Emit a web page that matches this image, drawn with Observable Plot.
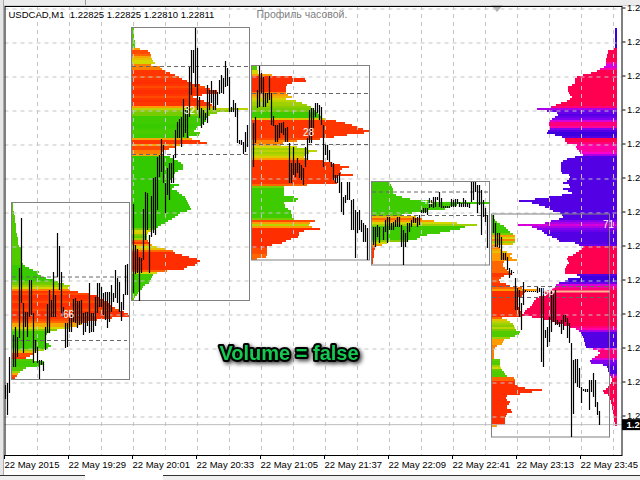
<!DOCTYPE html>
<html><head><meta charset="utf-8">
<script src="https://cdn.jsdelivr.net/npm/d3@7"></script>
<script src="https://cdn.jsdelivr.net/npm/@observablehq/plot@0.6"></script>
<style>
html,body{margin:0;padding:0;background:#fff;overflow:hidden}
#page{position:relative;width:640px;height:480px;overflow:hidden}
#page svg{position:absolute;left:0;top:0;background:transparent}
.c{position:absolute}
</style></head><body><div id="page">
<div class="c" style="left:0;top:0;width:640px;height:5px;background:#ececec;border-bottom:1px solid #d0d0d0"></div>
<div class="c" style="left:85px;top:0;width:1px;height:5px;background:#999"></div>
<div class="c" style="left:0;top:0;width:3px;height:476px;background:#e6e6e6;border-right:1px solid #aaa"></div>
<div class="c" style="left:0;top:475px;width:85px;height:5px;background:#f0f0f0;border-top:1px solid #333"></div>
<div class="c" style="left:163px;top:475px;width:477px;height:5px;background:#f0f0f0;border-top:1px solid #333"></div>
<div class="c" style="left:491px;top:5px;width:0;height:0;border-left:6px solid transparent;border-right:6px solid transparent;border-top:7px solid #b0b0b0"></div>
<script>
// ---- Price axis: chart rows (one row = one screen line of price) and tick prices
const bottomPrice = 1.2282, rowAtBottomPrice = 416.5, pricePerRow = 0.0004 / 34;
const rowPrice = r => bottomPrice + (rowAtBottomPrice - r) * pricePerRow;
const priceTicks = [1.2282,1.2286,1.2290,1.2294,1.2298,1.2302,1.2306,1.2310,1.2314,1.2318,1.2322,1.2326,1.2330];
const timeTickBars = [0,32,64,96,128,160,192,224,256,288];
const timeTickLabels = ["22 May 2015","22 May 19:29","22 May 20:01","22 May 20:33","22 May 21:05","22 May 21:37","22 May 22:09","22 May 22:41","22 May 23:13","22 May 23:45"];
const gridBars = [16,32,48,64,80,96,112,128,144,160,176,192,208,224,240,256,272,288,304];

// ---- M1 bars: high and low per bar, in chart rows (null = no bar drawn)
const barHigh = [385,383,357,null,335,327,337,268,218,303,312,312,280,280,313,340,347,360,360,362,327,304,290,300,272,295,233,246,272,307,323,323,318,315,299,298,301,301,300,313,312,312,283,313,313,297,283,283,287,293,292,292,292,285,293,270,278,282,302,294,265,264,null,null,
204,245,249,257,258,209,192,193,235,196,178,177,157,155,139,145,183,168,163,163,155,130,122,119,117,99,110,107,67,50,50,28,48,97,108,110,113,85,90,81,90,90,92,80,75,78,61,68,77,107,100,103,108,140,140,142,132,125,null,null,
123,117,90,66,73,77,93,93,76,93,116,125,125,123,123,122,128,127,143,163,147,163,158,163,165,168,147,138,110,108,108,103,103,105,107,125,145,145,150,162,163,175,175,173,182,197,195,182,182,200,199,210,212,210,220,223,225,228,null,null,
227,227,225,227,null,227,220,217,217,223,222,220,217,217,225,230,233,223,223,220,217,218,217,215,210,208,208,208,198,200,197,197,197,192,198,206,206,206,206,199,200,199,199,202,203,198,200,203,203,182,182,182,185,185,190,200,208,215,null,null,
215,223,233,233,237,253,253,257,268,270,272,278,288,290,303,282,290,291,291,291,291,291,287,288,288,288,330,327,317,290,293,290,320,322,320,315,315,318,323,343,360,359,359,368,387,389,389,389,380,380,373,380,402,411];
const barLow = [399,415,393,null,367,367,357,338,303,353,327,337,317,315,363,353,363,379,365,371,350,333,333,317,317,317,277,290,313,317,348,347,332,332,322,323,328,325,324,335,332,326,333,332,332,326,313,307,307,315,320,328,322,312,302,298,303,312,321,310,295,295,null,null,
293,274,273,301,273,260,240,230,273,237,233,235,210,177,172,183,213,195,200,183,183,158,138,138,147,137,133,138,117,95,73,87,110,118,128,125,120,123,110,103,110,110,105,94,93,94,87,86,112,112,112,117,143,144,145,154,152,147,null,null,
167,143,108,107,93,107,107,103,100,125,126,142,142,138,133,135,142,142,183,183,175,177,173,178,180,185,167,160,143,143,128,117,113,120,125,167,155,160,162,167,180,183,183,193,212,215,203,200,200,230,230,258,233,230,232,242,242,260,null,null,
245,247,237,243,null,240,232,243,230,230,230,227,227,227,247,265,247,242,232,227,223,223,227,225,213,213,213,215,208,207,208,207,200,207,208,208,208,208,208,207,207,207,204,207,207,207,207,207,208,202,200,192,213,205,235,217,222,248,null,null,
233,247,247,248,260,260,260,270,278,275,273,310,310,317,330,305,292,292,292,292,292,292,293,292,362,367,338,347,342,332,322,325,325,327,334,330,322,338,343,437,414,383,387,388,403,391,392,392,410,392,397,407,415,425];

// ---- Hourly profiles: first row, start bar, row widths and heat per 2-row step
const p1Row = 203, p1Bar = 3.5;
const p1Width = [1,1,1,1,2,2,3,3,3,3,4,4,4,4,4,5,5,6,6,6,6,7,9,9,10,10,10,10,10,10,11,13,17,21,27,26,29,34,42,46,52,58,56,58,66,78,85,88,92,95,97,99,103,108,112,116,117,100,85,75,70,65,58,45,38,35,33,33,33,34,37,39,36,32,24,22,18,14,21,32,31,28,14,11,8,6,5,3];
const p1Heat = [.2,.2,.2,.2,.2,.2,.2,.2,.2,.2,.2,.2,.2,.2,.2,.2,.2,.2,.2,.2,.2,.2,.2,.2,.2,.2,.2,.2,.2,.2,.2,.12,.12,.12,.12,.12,.12,.12,.12,.25,.3,.4,.5,.8,.95,.9,.97,.97,.95,.9,.97,.97,.95,.9,.97,.97,.95,.95,.9,.85,.7,.7,.5,.35,.15,.15,.15,.15,.15,.15,.15,.15,.15,.4,.6,.9,.9,.95,.2,.15,.15,.15,.2,.2,.4,.7,.9,.95];
const p2Row = 28, p2Bar = 63.5;
const p2Width = [2,2,2,2,2,2,3,3,3,3,8,16,18,19,19,20,21,23,19,28,30,33,38,43,47,50,55,60,68,73,78,85,86,70,61,66,72,78,80,84,116,100,85,78,76,74,74,72,69,65,64,62,68,67,57,60,68,75,48,44,37,31,30,31,38,42,46,49,51,51,51,46,43,42,41,39,37,38,47,42,40,45,47,50,53,54,55,56,57,58,59,55,48,46,43,40,36,33,29,26,23,20,16,15,15,15,16,18,20,25,33,41,43,50,57,65,68,66,63,55,52,35,25,21,20,19,18,17,13,11,10,8,6,5,3,2];
const p2Heat = [.2,.2,.2,.2,.2,.2,.2,.2,.2,.2,.75,.9,.9,.85,.7,.6,.5,.5,.8,.8,.8,.95,.95,.95,.9,.95,.97,.97,.95,.9,.95,.97,.97,.95,.9,.95,.97,.95,.95,.75,.45,.35,.3,.3,.15,.15,.15,.15,.12,.12,.15,.18,.18,.15,.15,.7,.95,.95,.75,.9,.9,.8,.8,.7,.1,.1,.1,.1,.1,.1,.1,.1,.1,.1,.1,.1,.1,.1,.1,.1,.1,.1,.1,.1,.1,.1,.1,.1,.1,.1,.1,.1,.1,.1,.1,.1,.1,.1,.1,.1,.3,.5,.55,.35,.25,.4,.85,.95,.75,.5,.6,.85,.97,.97,.97,.97,.97,.97,.97,.97,.97,.85,.5,.15,.15,.15,.15,.15,.15,.15,.15,.15,.15,.2,.2,.2];
const p3Row = 66, p3Bar = 123.5;
const p3Width = [5,5,6,6,20,40,53,54,40,35,34,34,34,34,36,40,34,44,50,55,59,61,63,66,68,70,74,84,93,100,106,111,117,112,95,82,68,45,31,29,45,55,65,57,53,52,55,71,80,88,97,90,88,89,101,85,82,84,85,55,32,32,32,32,32,42,46,44,32,33,33,36,39,39,40,40,42,63,58,57,60,68,52,47,47,46,39,34,30,20,15,15,15,15,15,14,5];
const p3Heat = [.2,.2,.5,.5,.75,.97,.97,.97,.97,.97,.97,.97,.97,.8,.75,.65,.55,.45,.4,.4,.35,.3,.3,.15,.15,.15,.6,.95,.95,.95,.95,.95,.95,.95,.95,.95,.9,.8,.8,.7,.5,.4,.45,.4,.45,.55,.75,.95,.95,.95,.95,.95,.95,.95,.95,.95,.95,.95,.95,.85,.3,.15,.15,.15,.15,.15,.15,.15,.15,.15,.15,.15,.15,.15,.15,.15,.3,.9,.75,.45,.75,.97,.97,.97,.97,.97,.97,.97,.97,.97,.97,.9,.9,.9,.85,.85,.85];
const p4Row = 182, p4Bar = 183.5;
const p4Width = [18,19,20,21,21,21,24,30,38,60,117,85,78,73,55,40,30,44,50,62,85,105,93,88,78,68,55,48,45,36,15,10,3,3,2,2,2,2,1,1,1];
const p4Heat = [.15,.15,.15,.15,.15,.15,.15,.15,.15,.15,.15,.15,.15,.15,.15,.15,.25,.65,.85,.75,.5,.4,.15,.15,.15,.15,.15,.15,.15,.35,.5,.75,.95,.95,.95,.95,.95,.95,.95,.95,.95];
const p5Row = 215, p5Bar = 243.5;
const p5Width = [2,2,3,5,8,12,14,16,18,21,23,23,23,23,21,6,8,10,15,20,18,20,25,12,11,11,13,15,17,20,12,9,7,8,14,18,30,46,33,32,30,26,25,25,26,26,27,28,29,29,30,10,15,18,21,22,23,24,28,27,23,18,12,11,10,5,3,2,2,2,2,2,8,8,8,8,9,10,12,13,15,22,23,23,23,26,33,50,40,28,15,14,15,18,17,15,15,19,20,15,14,13,13,13,13,5];
const p5Heat = [.2,.2,.15,.15,.15,.15,.15,.15,.15,.3,.75,.5,.8,.4,.6,.8,.8,.7,.6,.75,.75,.75,.75,.85,.85,.85,.85,.85,.85,.95,.95,.9,.9,.9,.95,.95,.85,.75,.97,.97,.97,.97,.97,.97,.97,.97,.97,.97,.97,.97,.97,.85,.6,.45,.4,.35,.45,.3,.2,.2,.2,.4,.75,.75,.75,.8,.8,.8,.8,.8,.8,.8,.25,.2,.2,.4,.5,.25,.2,.2,.2,.85,.85,.97,.97,.97,.97,.97,.97,.97,.97,.97,.97,.97,.97,.97,.97,.97,.97,.97,.97,.97,.97,.97,.97,.75];
const p6Row = 28, p6Bar = 306;
const p6Width = [2,2,2,2,2,2,2,2,2,2,4,9,9,10,10,11,11,11,11,13,17,20,26,34,40,42,42,42,45,49,49,49,48,47,45,47,50,56,61,66,80,70,60,59,62,65,68,68,68,68,67,69,70,62,55,52,52,50,40,41,40,38,37,34,42,50,54,56,56,56,56,56,55,48,47,48,50,54,48,47,54,49,45,55,68,82,98,85,78,72,68,64,57,55,54,58,66,72,100,85,80,75,73,70,65,60,58,42,38,34,35,38,41,44,49,50,49,48,50,51,52,52,52,40,37,49,52,58,61,62,65,74,72,71,78,81,83,84,85,87,90,92,93,95,85,73,66,61,53,47,41,38,36,35,34,33,33,32,32,31,24,19,17,19,22,25,27,26,14,10,9,9,8,7,6,5,5,6,7,9,11,14,13,9,7,7,6,6,5,5,5,4,4,4,3,3,3,2,2];
const p6Heat = [0,0,0,0,0,0,0,0,0,0,9,9,9,9,9,9,9,7,5,5,7,9,9,9,9,9,9,9,9,9,9,9,9,9,9,9,9,9,9,8,4,2,2,1,2,3,5,8,8,7,3,1,0,0,1,9,9,8,7,7,7,7,6,4,1,1,1,1,1,1,1,1,1,1,1,1,1,1,1,1,1,1,1,1,1,1,1,1,1,1,1,1,1,1,1,1,3,4,5,4,3,2,1,1,1,1,1,1,2,9,9,9,9,9,9,9,9,9,9,9,9,9,9,1,0,0,0,2,5,7,8,9,9,9,9,9,9,9,9,9,9,9,9,9,9,9,9,9,9,8,7,4,1,1,1,1,1,1,1,1,6,8,8,8,8,5,3,3,2,1,1,1,1,4,7,9,9,9,9,9,9,9,9,9,9,9,9,9,9,9,9,9,9,9,9,9,9,9,9];

// ---- Profile boxes, value-area lines, point-of-control labels
const boxLeft = [3.25,63.25,123.25,183.25,243.25];
const boxRight = [62.25,122.25,182.25,242.25,302.25];
const boxTop = [202.5,27.5,65.5,181.5,214];
const boxBottom = [379.5,300.5,260,265,437];
const vaRows = [276.5,340,66,154,93,144,191.5,215,286,297];
const vaLeft = [3.5,3.5,63.5,63.5,123.5,123.5,183.5,183.5,243.5,243.5];
const vaRight = [62,61,122,122,182,182,242,242,302,302];
const pocLabels = ["66","32","28","41","71","56"];
const pocBars = [31.5,92,151.5,211,301.5,271.5];
const pocRows = [314,110,132,200,224,291];
const bidPrice = 1.22811;

const profile = (row, bar, width, heat, side) => width.map((w, k) => ({
  y1: rowPrice(row + 2 * k), y2: rowPrice(row + 2 * k + 2),
  x1: side < 0 ? bar - w / 2 : bar, x2: side < 0 ? bar : bar + w / 2,
  heat: heat[k]
}));
const rows = [
  ...profile(p1Row, p1Bar, p1Width, p1Heat, 1),
  ...profile(p2Row, p2Bar, p2Width, p2Heat, 1),
  ...profile(p3Row, p3Bar, p3Width, p3Heat, 1),
  ...profile(p4Row, p4Bar, p4Width, p4Heat, 1),
  ...profile(p5Row, p5Bar, p5Width, p5Heat, 1),
  ...profile(p6Row, p6Bar, p6Width, p6Heat.map(h => 2 + h / 9), -1)
];
const bars = d3.range(barHigh.length).filter(i => barHigh[i] !== null);
const axisFont = "Liberation Sans";

const plot = Plot.plot({
  width: 640, height: 480,
  marginLeft: 4.5, marginRight: 18.5, marginTop: 6, marginBottom: 25,
  style: {fontFamily: axisFont, fontSize: "9.5px", background: "transparent", color: "#000"},
  x: {type: "linear", domain: [-0.25, 308.25], label: null},
  y: {type: "linear", domain: [rowPrice(455), rowPrice(6)], label: null},
  color: {type: "linear",
    domain: [0,.15,.35,.5,.75,.9,1,2,2.33,2.66,3],
    range: ["#1cc400","#3ecb00","#88cc00","#d4d800","#ff9a00","#ff4a00","#ff2200","#3c00e0","#8000f0","#ff00d0","#ff0050"]},
  marks: [
    Plot.rect(rows, {x1: "x1", x2: "x2", y1: "y1", y2: "y2", fill: "heat", shapeRendering: "crispEdges"}),
    Plot.ruleX(gridBars, {stroke: "#c4c4c4", strokeDasharray: "4,4", strokeWidth: 1}),
    Plot.ruleY(priceTicks, {stroke: "#c4c4c4", strokeDasharray: "4,4", strokeWidth: 1}),
    Plot.ruleY([bidPrice], {stroke: "#bdbdbd", strokeWidth: 1}),
    Plot.ruleY(vaRows, {y: r => rowPrice(r), x1: (r, i) => vaLeft[i], x2: (r, i) => vaRight[i], stroke: "#666", strokeDasharray: "4,3", strokeWidth: 1}),
    Plot.rect(boxLeft, {x1: d => d, x2: (d, i) => boxRight[i], y1: (d, i) => rowPrice(boxTop[i]), y2: (d, i) => rowPrice(boxBottom[i]), fill: "none", stroke: "#808080", strokeWidth: 1}),
    Plot.ruleY([rowPrice(291)], {x1: 269, x2: 302.25, stroke: "#ffb598", strokeWidth: 2}),
    Plot.ruleX(bars, {x: i => i, y1: i => rowPrice(barHigh[i]), y2: i => rowPrice(barLow[i]), stroke: "#000", strokeWidth: 1.2}),
    Plot.text(pocLabels, {x: (d, i) => pocBars[i], y: (d, i) => rowPrice(pocRows[i]), text: d => d, fill: "#fff", fontSize: 10}),
    Plot.axisX({ticks: timeTickBars, tickFormat: d => timeTickLabels[timeTickBars.indexOf(d)], anchor: "bottom", tickSize: 4, tickPadding: 2, textAnchor: "start", dx: -1, label: null, stroke: "#000", fontSize: 9.5}),
    Plot.axisY({ticks: priceTicks, tickFormat: () => "1.2", anchor: "right", tickSize: 3, tickPadding: 2, dy: -1, label: null, stroke: "#000", fontSize: 9.5}),
    Plot.frame({stroke: "#000", strokeWidth: 1}),
    Plot.ruleY([bidPrice], {x1: 308.5, x2: 318, stroke: "#000", strokeWidth: 11}),
    Plot.text(["1.2"], {x: 310.5, y: bidPrice, text: d => d, fill: "#fff", textAnchor: "start", fontWeight: "bold", fontSize: 9.5}),
    Plot.text(["USDCAD,M1  1.22825 1.22825 1.22810 1.22811"], {x: 1.5, y: rowPrice(14), text: d => d, textAnchor: "start", fill: "#000", fontSize: 9.5}),
    Plot.text(["Профиль часовой."], {x: 125.5, y: rowPrice(14), text: d => d, textAnchor: "start", fill: "#808080", fontSize: 10.5}),
    Plot.text(["Volume = false"], {x: 141.75, y: rowPrice(353), text: d => d, fill: "#14c850", stroke: "#000", strokeWidth: 4, fontFamily: "Liberation Sans", fontWeight: "bold", fontSize: 20})
  ]
});
plot.querySelectorAll("text").forEach(t => {
  if (t.textContent === "Volume = false") t.style.filter = "drop-shadow(2px 2px 2px rgba(0,0,0,.75))";
});
document.getElementById("page").appendChild(plot);
</script>
</div></body></html>
